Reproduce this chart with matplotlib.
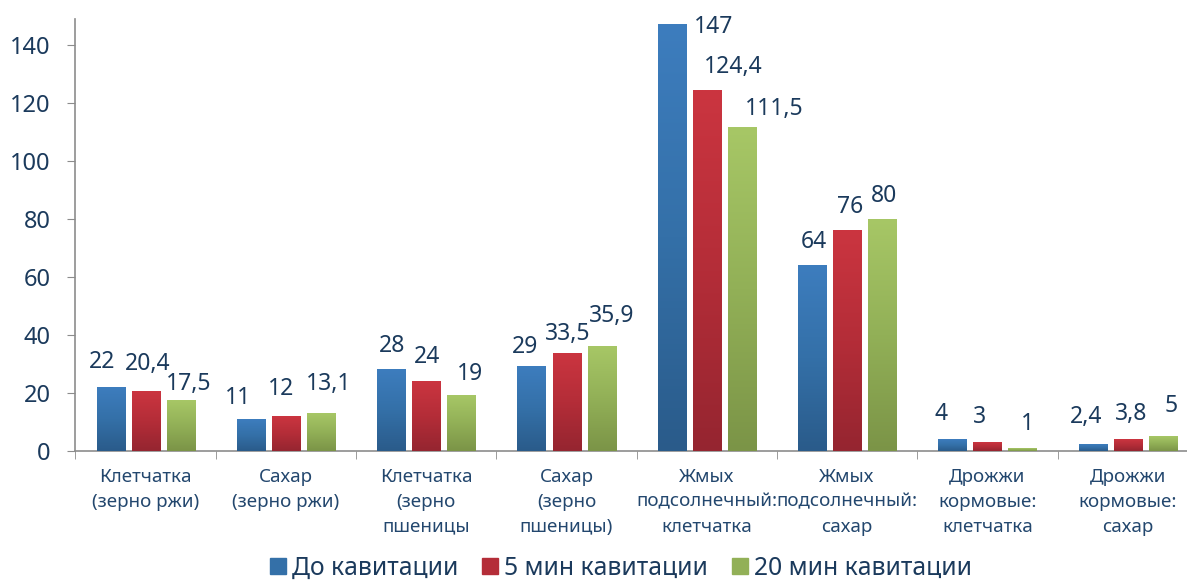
import numpy as np
import matplotlib
matplotlib.use("Agg")
import matplotlib.pyplot as plt
from matplotlib.colors import LinearSegmentedColormap
from matplotlib.lines import Line2D

plt.rcParams['font.family'] = ['Noto Sans', 'DejaVu Sans']

categories = ["Клетчатка\n(зерно ржи)", "Сахар\n(зерно ржи)", "Клетчатка\n(зерно\nпшеницы",
              "Сахар\n(зерно\nпшеницы)", "Жмых\nподсолнечный:\nклетчатка",
              "Жмых\nподсолнечный:\nсахар", "Дрожжи\nкормовые:\nклетчатка",
              "Дрожжи\nкормовые:\nсахар"]
series_names = ["До кавитации", "5 мин кавитации", "20 мин кавитации"]
before = [22, 11, 28, 29, 147, 64, 4, 2.4]
after5 = [20.4, 12, 24, 33.5, 124.4, 76, 3, 3.8]
after20 = [17.5, 13.1, 19, 35.9, 111.5, 80, 1, 5]
yticks = [0, 20, 40, 60, 80, 100, 120, 140]

# style
top_colors = ["#3D7DBE", "#CB3540", "#A7C766"]
bot_colors = ["#2A5B8A", "#952530", "#7B9447"]
mid_colors = ["#3470A8", "#B42D38", "#92B057"]
value_color = "#1B3A5C"
cat_color = "#23476E"
# per-label nudges in pixels (dx, dy) relative to bar top centre
nudges = [
    [(-8, 19), (-13, 15), (1, 18), (-6, 14), (42, -8), (2, 17), (-11, 19), (-7, 21)],
    [(2, 22), (-5, 21), (1, 18), (1, 14), (26, 17), (3, 18), (-8, 19), (3, 20)],
    [(8, 10), (8, 23), (9, 16), (10, 25), (32, 13), (2, 17), (5, 18), (8, 25)],
]

W, H = 1187, 581
fig = plt.figure(figsize=(W / 100, H / 100), dpi=100)
ax = fig.add_axes([75.5 / W, 130 / H, 1122.4 / W, 432 / H])

x = np.arange(len(categories))
width = 0.2
offsets = [-0.25, 0.0, 0.25]
grad = np.linspace(0, 1, 256).reshape(-1, 1)

def fmt(v):
    s = ("%g" % v)
    return s.replace(".", ",")

for i, vals in enumerate([before, after5, after20]):
    cmap = LinearSegmentedColormap.from_list("g%d" % i, [bot_colors[i], mid_colors[i], top_colors[i]])
    bars = ax.bar(x + offsets[i], vals, width, color=mid_colors[i], zorder=2,
                  linewidth=0)
    for j, b in enumerate(bars):
        x0 = b.get_x()
        h = b.get_height()
        ax.imshow(grad, extent=(x0, x0 + b.get_width(), 0, h), origin='lower',
                  cmap=cmap, aspect='auto', zorder=3, interpolation='bilinear')
        dx, dy = nudges[i][j]
        ax.annotate(fmt(vals[j]), (x0 + b.get_width() / 2, h), xytext=(dx, dy),
                    textcoords='offset pixels', ha='center', va='baseline',
                    fontsize=16.5, color=value_color, zorder=5)

ax.set_xlim(-0.5, len(categories) - 0.5)
ax.set_ylim(0, 149)
ax.set_yticks(yticks)
ax.set_yticklabels([str(t) for t in yticks], fontsize=17, color=value_color)
ax.tick_params(axis='y', length=6, color="#8C8C8C", pad=12)
ax.set_xticks(x)
ax.set_xticklabels(categories, fontsize=13.5, color=cat_color, linespacing=1.5)
ax.tick_params(axis='x', length=0, pad=12)
ax.set_xticks(np.arange(-0.5, len(categories), 1.0), minor=True)
ax.tick_params(axis='x', which='minor', length=6, color="#8C8C8C")
for s in ['top', 'right']:
    ax.spines[s].set_visible(False)
for s in ['left', 'bottom']:
    ax.spines[s].set_color("#8C8C8C")
    ax.spines[s].set_linewidth(1.2)

handles = [Line2D([], [], marker='s', linestyle='none', markersize=11,
                  markerfacecolor=mid_colors[i], markeredgecolor=mid_colors[i])
           for i in range(3)]
fig.legend(handles, series_names, loc='center', bbox_to_anchor=(620 / W, 13 / H),
           ncol=3, frameon=False, fontsize=17.8, handletextpad=0.15,
           columnspacing=0.9, handlelength=0.8, labelcolor=value_color,
           borderaxespad=0, borderpad=0)

fig.savefig("out.png", dpi=100)
